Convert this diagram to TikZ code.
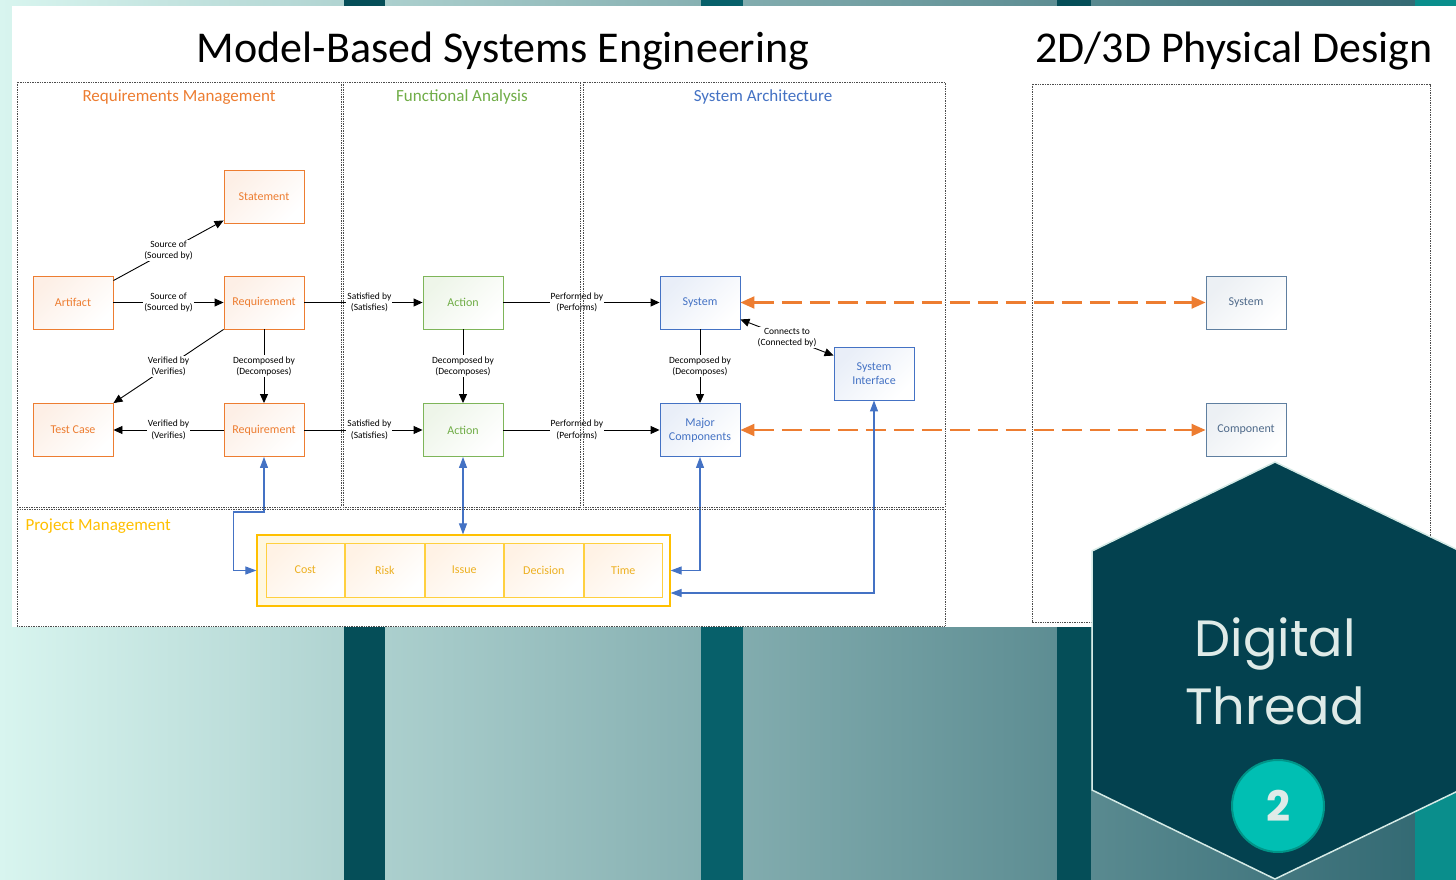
\documentclass[tikz,border=0pt]{standalone}
\usepackage{fontspec}
\setmainfont{Carlito}
\newfontfamily\hexfont{Poppins}
\usetikzlibrary{positioning,arrows.meta}

\definecolor{rmOrange}{HTML}{ED7D31}
\definecolor{faGreen}{HTML}{70AD47}
\definecolor{saBlue}{HTML}{4472C4}
\definecolor{pmYellow}{HTML}{FFC000}
\definecolor{pmText}{HTML}{EDB020}
\definecolor{pdSlate}{HTML}{5F7FA0}
\definecolor{pdText}{HTML}{4F6A8A}
\definecolor{bgLight}{HTML}{D8F5EF}
\definecolor{bgMid}{HTML}{94C0BF}
\definecolor{bgDark}{HTML}{2F6670}
\definecolor{stripeDark}{HTML}{054E58}
\definecolor{stripeMid}{HTML}{07606A}
\definecolor{stripeTeal}{HTML}{0A8E8C}
\definecolor{hexFill}{HTML}{03414F}
\definecolor{hexLine}{HTML}{D5EAE6}
\definecolor{hexText}{HTML}{DFEBE8}
\definecolor{badge}{HTML}{00BFB3}
\definecolor{badgeLine}{HTML}{009488}

\begin{document}
\begin{tikzpicture}[x=1pt,y=-1pt,
  box/.style={draw,line width=0.9pt,minimum width=80pt,minimum height=53pt,inner sep=1pt,
    align=center,font=\fontsize{12}{14}\selectfont},
  rmbox/.style={box,draw=rmOrange,text=rmOrange,top color=rmOrange!12,bottom color=white,shading angle=45},
  fabox/.style={box,draw=faGreen!90,text=faGreen,top color=faGreen!12,bottom color=white,shading angle=45},
  sabox/.style={box,draw=saBlue,text=saBlue,top color=saBlue!12,bottom color=white,shading angle=45},
  pdbox/.style={box,draw=pdSlate,text=pdText,top color=pdSlate!12,bottom color=white,shading angle=45},
  cell/.style={draw=pmYellow!75,line width=0.9pt,minimum width=78.6pt,minimum height=54pt,text=pmText,
    font=\fontsize{12}{14}\selectfont,top color=orange!10,bottom color=white,shading angle=45},
  rel/.style={line width=0.9pt,-{Triangle[length=9pt,width=8pt]}},
  lbl/.style={fill=white,inner sep=1pt,align=center,font=\fontsize{9.5}{11.5}\selectfont},
  panel/.style={draw=black!70,line width=0.8pt,dash pattern=on 1pt off 0.7pt},
  ptitle/.style={anchor=base,font=\fontsize{17}{20}\selectfont},
  trace/.style={draw=rmOrange,line width=2.2pt,dash pattern=on 20pt off 8pt,
    {Triangle[length=14pt,width=12pt]}-{Triangle[length=14pt,width=12pt]}},
  pmlink/.style={draw=saBlue,line width=1.1pt,
    {Triangle[length=11pt,width=8pt]}-{Triangle[length=11pt,width=8pt]}}]
\useasboundingbox (0,0) rectangle (1456,880);

% Background and stripes
\shade[left color=bgLight,middle color=bgMid,right color=bgDark] (0,0) rectangle (1456,880);
\fill[stripeDark] (344,0) rectangle (385,880);
\fill[stripeMid] (701,0) rectangle (743,880);
\fill[stripeDark] (1057,0) rectangle (1091,880);
\fill[stripeTeal] (1415,0) rectangle (1456,880);
\fill[white] (12,6) rectangle (1456,627);

% Titles
\node[anchor=base,font=\fontsize{44}{50}\selectfont] (mbse) at (503,63) {Model-Based Systems Engineering};
\node[anchor=base,font=\fontsize{44}{50}\selectfont] (pdtitle) at (1234,63) {2D/3D Physical Design};
\node[ptitle,text=rmOrange] (rmtitle) at (179,102) {Requirements Management};
\node[ptitle,text=faGreen] (fatitle) at (462,102) {Functional Analysis};
\node[ptitle,text=saBlue] (satitle) at (763,102) {System Architecture};
\node[ptitle,anchor=base west,text=pmYellow] (pmtitle) at (22,530) {Project Management};

% Requirements management
\node[rmbox] (stmt) at (264,196.5) {Statement};
\node[rmbox] (artf) at (73,302.5) {Artifact};
\node[rmbox] (req1) at (264,302.5) {Requirement};
\node[rmbox] (tcase) at (73,430) {Test Case};
\node[rmbox] (req2) at (264,430) {Requirement};

% Functional analysis
\node[fabox] (act1) at (463,302.5) {Action};
\node[fabox] (act2) at (463,430) {Action};

% System architecture
\node[sabox] (sys) at (700,302.5) {System};
\node[sabox] (comp) at (700,430) {Major\\Components};
\node[sabox] (sysif) at (874,373.5) {System\\Interface};

% Physical design
\node[pdbox] (sysd) at (1246,302.5) {System};
\node[pdbox] (compd) at (1246,430) {Component};

% Project management
\node[draw=pmYellow,line width=1.2pt,top color=pmYellow!12,bottom color=white,shading angle=45,
  minimum width=413pt,minimum height=71pt] (pmbox) at (463.5,570.5) {};
\node[cell] (cost) at (305.3,570) {Cost};
\node[cell,right=0pt of cost] (risk) {Risk};
\node[cell,right=0pt of risk] (issue) {Issue};
\node[cell,right=0pt of issue] (decis) {Decision};
\node[cell,right=0pt of decis] (time) {Time};

% Relations
\draw[rel] ([yshift=-5pt]artf.north east) -- ([yshift=3pt]stmt.south west)
  node[lbl,midway] {Source of\\(Sourced by)};
\draw[rel] (artf) -- (req1) node[lbl,midway] {Source of\\(Sourced by)};
\draw[rel] (req1.south west) -- (tcase.north east) node[lbl,midway] {Verified by\\(Verifies)};
\draw[rel] (req1) -- (req2) node[lbl,midway] {Decomposed by\\(Decomposes)};
\draw[rel] (req2) -- (tcase) node[lbl,midway] {Verified by\\(Verifies)};
\draw[rel] (req1) -- (act1) node[lbl,pos=0.55] {Satisfied by\\(Satisfies)};
\draw[rel] (req2) -- (act2) node[lbl,pos=0.55] {Satisfied by\\(Satisfies)};
\draw[rel] (act1) -- (act2) node[lbl,midway] {Decomposed by\\(Decomposes)};
\draw[rel] (act1) -- (sys) node[lbl,pos=0.47] {Performed by\\(Performs)};
\draw[rel] (act2) -- (comp) node[lbl,pos=0.47] {Performed by\\(Performs)};
\draw[rel] (sys) -- (comp) node[lbl,midway] {Decomposed by\\(Decomposes)};
\draw[rel,{Triangle[length=9pt,width=8pt]}-{Triangle[length=9pt,width=8pt]}]
  ([yshift=10pt]sys.south east) -- ([yshift=-9pt]sysif.north west)
  node[lbl,midway] {Connects to\\(Connected by)};

% Digital thread traces
\draw[trace] (sys) -- (sysd);
\draw[trace] (comp) -- (compd);

% Links to project management
\draw[pmlink] (req2.south) -- ++(0,55) -| ([xshift=-23pt]pmbox.west) -- (pmbox.west);
\draw[pmlink] (act2.south) -- (act2.south |- pmbox.north);
\draw[pmlink] (comp.south) |- (pmbox.east);
\draw[pmlink] (sysif.south) |- ([yshift=-22.5pt]pmbox.east);

% Panels
\draw[panel] (17,82) rectangle (341,507);
\draw[panel] (343,82) rectangle (580,507);
\draw[panel] (583,82) rectangle (945,507);
\draw[panel] (17,509) rectangle (945,626);
\draw[panel] (1032,84) rectangle (1430,622);

% Digital thread badge
\draw[fill=hexFill,draw=hexLine,line width=1.5pt]
  (1275,462) -- (1460,551) -- (1460,790) -- (1275,879) -- (1092,790) -- (1092,551) -- cycle;
\node[anchor=base,text=hexText,font=\hexfont\fontsize{51}{56}\selectfont] (dig) at (1275,656) {Digital};
\node[anchor=base,text=hexText,font=\hexfont\fontsize{51}{56}\selectfont] (thr) at (1275,724) {Thread};
\node[circle,fill=badge,draw=badgeLine,line width=2pt,minimum size=92pt,text=hexText,
  font=\hexfont\bfseries\fontsize{42}{44}\selectfont] (num) at (1278,806) {2};

\end{tikzpicture}
\end{document}
